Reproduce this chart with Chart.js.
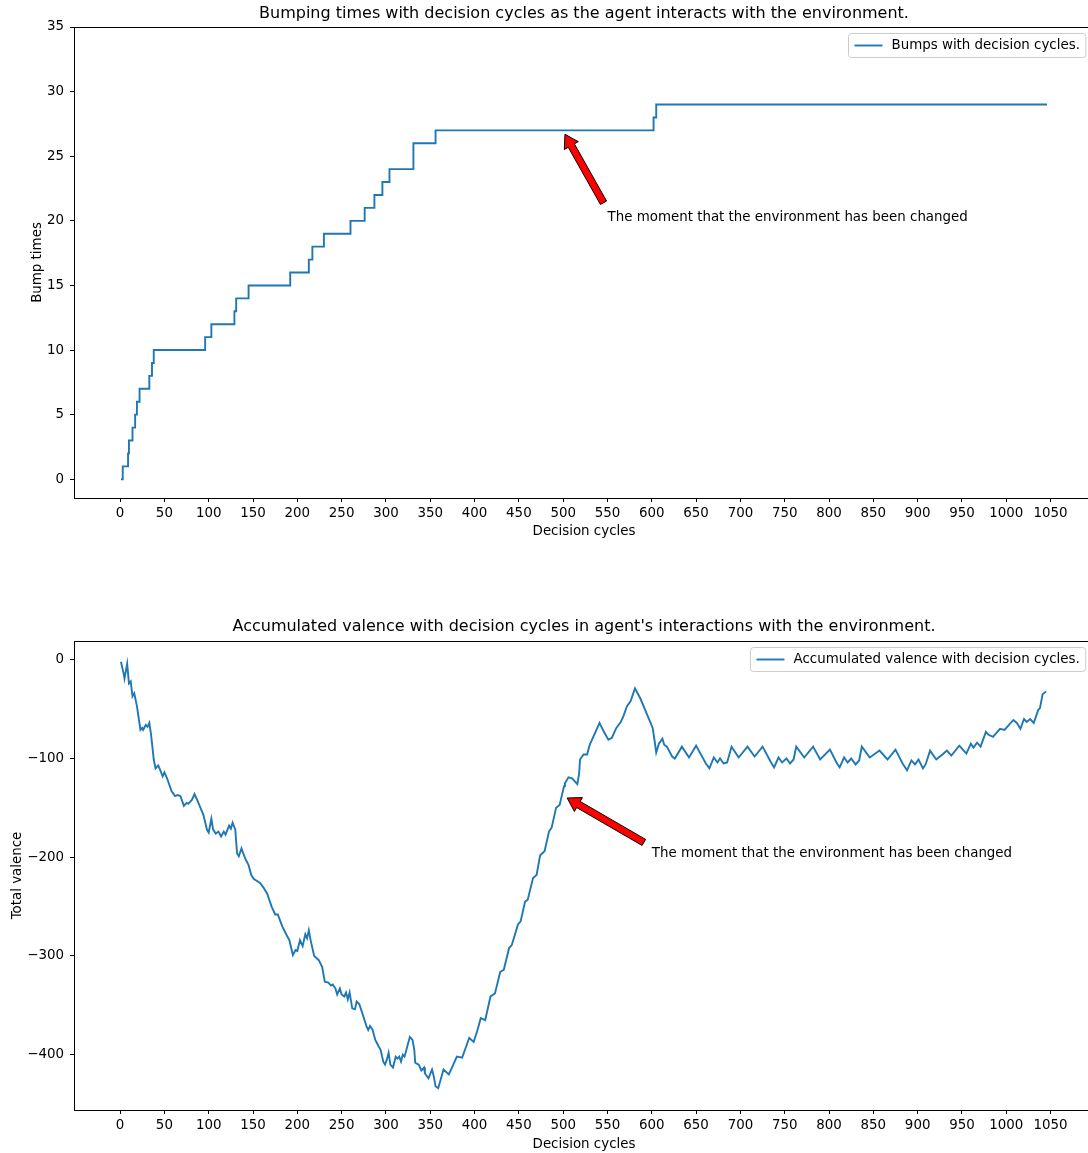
<!DOCTYPE html>
<html>
<head>
<meta charset="utf-8">
<script src="https://cdn.jsdelivr.net/npm/chart.js@4.4.1/dist/chart.umd.min.js"></script>
<style>
  html, body { margin: 0; padding: 0; background: #fff; }
  #page { position: relative; width: 1088px; height: 1153px; overflow: hidden; }
  canvas { position: absolute; left: 0; }
  #bumps { top: 0; }
  #valence { top: 580px; }
</style>
</head>
<body>
<div id="page">
  <canvas id="bumps" width="1100" height="545"></canvas>
  <canvas id="valence" width="1100" height="573"></canvas>
</div>
<script>
// tick labels shared by both x axes
const cycleTicks = [0, 50, 100, 150, 200, 250, 300, 350, 400, 450, 500, 550, 600, 650, 700, 750, 800, 850, 900, 950, 1000, 1050];

// top chart: cycle at which the bump count changes, and the new count
const bumpCycles = [1, 3, 9, 10, 14, 17, 19, 22, 33, 36, 38, 96, 103, 129, 131, 145, 192, 213, 217, 230, 260, 276, 287, 296, 304, 331, 331, 356, 602, 605, 1046];
const bumpTimes  = [0, 1, 2, 3, 4, 5, 6, 7, 8, 9, 10, 11, 12, 13, 14, 15, 16, 17, 18, 19, 20, 21, 22, 23, 24, 25, 26, 27, 28, 29, 29];
const bumpTicks = [0, 5, 10, 15, 20, 25, 30, 35];

// bottom chart: accumulated valence
const valenceCycles = [
  1, 4, 5, 8, 10, 12, 14, 16, 19, 21, 23, 25, 26, 29, 31, 33, 35, 38, 40, 43,
  45, 48, 50, 53, 58, 62, 65, 68, 72, 75, 77, 81, 84, 87, 94, 98, 100, 103, 105, 108,
  111, 114, 117, 119, 123, 125, 127, 130, 132, 134, 137, 141, 145, 148, 151, 158, 162, 166, 171, 175,
  178, 183, 188, 191, 195, 198, 200, 203, 206, 209, 211, 213, 215, 219, 224, 228, 231, 235, 238, 240,
  243, 245, 248, 250, 253, 255, 257, 259, 262, 265, 267, 270, 273, 278, 280, 282, 285, 288, 292, 294,
  297, 299, 301, 303, 305, 308, 311, 313, 315, 317, 319, 321, 324, 327, 330, 332, 333, 337, 340, 343,
  344, 348, 352, 354, 356, 359, 365, 371, 376, 380, 386, 390, 394, 399, 403, 407, 412, 418, 423, 429,
  433, 439, 442, 449, 452, 457, 460, 466, 470, 474, 479, 484, 487, 492, 496, 501, 502, 506, 510, 516,
  518, 519, 523, 527, 530, 534, 538, 541, 546, 551, 555, 560, 565, 568, 572, 576, 581, 587, 601, 603,
  605, 608, 612, 614, 617, 623, 626, 634, 642, 650, 661, 665, 670, 674, 677, 681, 685, 690, 698, 708,
  716, 725, 734, 738, 743, 747, 752, 756, 760, 763, 772, 782, 790, 801, 809, 812, 817, 821, 825, 830,
  834, 837, 846, 857, 866, 875, 883, 888, 893, 897, 901, 906, 909, 914, 921, 928, 933, 938, 947, 950,
  955, 960, 963, 967, 971, 977, 980, 985, 993, 998, 1008, 1012, 1016, 1020, 1023, 1027, 1031, 1036, 1038, 1041,
  1045
];
const valenceValues = [
  -2, -14, -19, -4, -24, -22, -37, -34, -47, -59, -71, -69, -71, -66, -68, -64, -76, -101, -110, -107,
  -111, -118, -114, -120, -133, -138, -137, -138, -148, -145, -146, -142, -136, -142, -157, -172, -175, -161, -172, -176,
  -174, -179, -174, -177, -168, -171, -165, -172, -196, -199, -191, -201, -208, -218, -222, -226, -231, -237, -250, -258,
  -258, -270, -279, -284, -299, -294, -295, -284, -290, -278, -282, -274, -284, -300, -304, -311, -326, -327, -330, -329,
  -333, -339, -333, -339, -341, -337, -344, -337, -353, -354, -346, -349, -357, -371, -375, -371, -375, -385, -392, -395,
  -407, -410, -405, -398, -410, -413, -402, -404, -402, -407, -400, -402, -392, -382, -385, -395, -408, -410, -416, -413,
  -419, -424, -415, -422, -432, -434, -415, -420, -410, -402, -403, -393, -383, -387, -376, -363, -365, -341, -338, -316,
  -314, -292, -289, -268, -265, -245, -243, -221, -218, -198, -194, -174, -170, -150, -147, -128, -125, -119, -120, -126,
  -115, -101, -96, -96, -86, -78, -70, -64, -73, -81, -79, -69, -63, -57, -47, -42, -29, -39, -69, -81,
  -94, -85, -80, -86, -88, -98, -100, -88, -99, -87, -105, -110, -99, -104, -100, -105, -104, -88, -99, -88,
  -98, -88, -103, -109, -99, -104, -100, -105, -101, -88, -99, -88, -101, -91, -105, -109, -99, -104, -100, -106,
  -102, -88, -99, -92, -101, -91, -105, -112, -102, -106, -101, -110, -106, -92, -101, -96, -92, -97, -87, -90,
  -95, -85, -89, -84, -88, -73, -76, -78, -70, -71, -61, -64, -70, -60, -63, -60, -64, -51, -49, -35,
  -32
];
const valenceTicks = [0, -100, -200, -300, -400];

const noteText = 'The moment that the environment has been changed';
// arrow ends and text anchor, in data units
const bumpNote = { tail: [545.5, 21.4], tip: [502, 26.7], text: [550, 20] };
const valenceNote = { tail: [591, -185], tip: [504.5, -140], text: [600, -200] };

const FONT = '"DejaVu Sans", sans-serif';
const SMALL = 13.4;
Chart.defaults.font.family = FONT;
Chart.defaults.color = '#000';

const framePlugin = {
  id: 'frame',
  afterDatasetsDraw(chart) {
    const { ctx, chartArea: a } = chart;
    ctx.save();
    ctx.strokeStyle = '#000';
    ctx.lineWidth = 1;
    ctx.strokeRect(Math.round(a.left) + 0.5, Math.round(a.top) + 0.5,
      Math.round(a.right - a.left), Math.round(a.bottom - a.top));
    ctx.restore();
  }
};

const notePlugin = {
  id: 'note',
  afterDatasetsDraw(chart, args, opts) {
    const { ctx, scales: { x, y } } = chart;
    const tx = x.getPixelForValue(opts.tail[0]), ty = y.getPixelForValue(opts.tail[1]);
    const px = x.getPixelForValue(opts.tip[0]), py = y.getPixelForValue(opts.tip[1]);
    const len = Math.hypot(px - tx, py - ty);
    const ux = (px - tx) / len, uy = (py - ty) / len;
    const nx = -uy, ny = ux;
    const w = 3.5, hw = 8, hl = 13;
    const bx = px - ux * hl, by = py - uy * hl;
    ctx.save();
    ctx.beginPath();
    ctx.moveTo(tx + nx * w, ty + ny * w);
    ctx.lineTo(bx + nx * w, by + ny * w);
    ctx.lineTo(bx + nx * hw, by + ny * hw);
    ctx.lineTo(px, py);
    ctx.lineTo(bx - nx * hw, by - ny * hw);
    ctx.lineTo(bx - nx * w, by - ny * w);
    ctx.lineTo(tx - nx * w, ty - ny * w);
    ctx.closePath();
    ctx.fillStyle = '#ff0000';
    ctx.fill();
    ctx.strokeStyle = '#000';
    ctx.lineWidth = 1;
    ctx.stroke();

    ctx.fillStyle = '#000';
    ctx.font = SMALL + 'px ' + FONT;
    ctx.textAlign = 'left';
    ctx.textBaseline = 'alphabetic';
    ctx.fillText(noteText, x.getPixelForValue(opts.text[0]), y.getPixelForValue(opts.text[1]));
    ctx.restore();
  }
};

const boxLegendPlugin = {
  id: 'boxLegend',
  afterDraw(chart) {
    const { ctx, chartArea: a } = chart;
    const ds = chart.data.datasets[0];
    ctx.save();
    ctx.font = SMALL + 'px ' + FONT;
    const tw = ctx.measureText(ds.label).width;
    const bw = 43 + tw + 6, bh = 24;
    const left = Math.round(a.right - 9 - bw) + 0.5, top = Math.round(a.top + 6) + 0.5;
    ctx.beginPath();
    ctx.roundRect(left, top, bw, bh, 3);
    ctx.fillStyle = 'rgba(255,255,255,0.8)';
    ctx.fill();
    ctx.strokeStyle = '#cccccc';
    ctx.lineWidth = 1;
    ctx.stroke();
    ctx.beginPath();
    ctx.moveTo(left + 6, top + bh / 2);
    ctx.lineTo(left + 34, top + bh / 2);
    ctx.strokeStyle = ds.borderColor;
    ctx.lineWidth = ds.borderWidth;
    ctx.stroke();
    ctx.fillStyle = '#000';
    ctx.textBaseline = 'middle';
    ctx.fillText(ds.label, left + 43, top + bh / 2 + 0.5);
    ctx.restore();
  }
};

function axisTicks(values, format, pad) {
  return {
    afterBuildTicks(scale) { scale.ticks = values.map(v => ({ value: v })); },
    ticks: { font: { size: SMALL }, color: '#000', padding: pad, maxRotation: 0, autoSkip: false, callback: format },
    grid: { display: true, drawOnChartArea: false, drawTicks: true, tickLength: 4, tickColor: '#000', tickWidth: 1 },
    border: { display: false }
  };
}

const minusFmt = v => (v < 0 ? '\u2212' + Math.abs(v) : String(v));

function makeChart(id, cfg) {
  return new Chart(document.getElementById(id), {
    type: 'line',
    data: {
      datasets: [{
        label: cfg.label,
        data: cfg.xs.map((c, i) => ({ x: c, y: cfg.ys[i] })),
        borderColor: '#1f77b4',
        borderWidth: 1.9,
        pointRadius: 0,
        fill: false,
        tension: 0,
        stepped: cfg.stepped
      }]
    },
    options: {
      responsive: false,
      animation: false,
      layout: { padding: { left: 0, right: 6, top: 0, bottom: 0 } },
      plugins: {
        legend: { display: false },
        tooltip: { enabled: false },
        title: {
          display: true,
          fullSize: false,
          text: cfg.title,
          color: '#000',
          font: { size: 16, weight: 'normal' },
          padding: cfg.titlePad
        },
        note: cfg.note
      },
      scales: {
        x: Object.assign(axisTicks(cycleTicks, v => String(v), 3.5), {
          type: 'linear',
          min: -52,
          max: 1099,
          afterFit(scale) { scale.height = cfg.xAxisHeight; },
          title: { display: true, text: 'Decision cycles', font: { size: SMALL }, color: '#000', padding: { top: 0, bottom: cfg.xTitleBottom } }
        }),
        y: Object.assign(axisTicks(cfg.yTicks, cfg.yFmt, 6), {
          type: 'linear',
          min: cfg.yMin,
          max: cfg.yMax,
          afterFit(scale) { scale.width = 74; },
          title: { display: true, text: cfg.yTitle, font: { size: SMALL }, color: '#000', padding: { top: cfg.yTitleTop, bottom: 0 } }
        })
      }
    },
    plugins: [framePlugin, notePlugin, boxLegendPlugin]
  });
}

makeChart('bumps', {
  label: 'Bumps with decision cycles.',
  title: 'Bumping times with decision cycles as the agent interacts with the environment.',
  xs: bumpCycles,
  ys: bumpTimes,
  stepped: 'before',
  yTicks: bumpTicks,
  yFmt: v => String(v),
  yMin: -1.45,
  yMax: 35,
  yTitle: 'Bump times',
  yTitleTop: 29,
  titlePad: { top: 4.4, bottom: 3.4 },
  xAxisHeight: 47,
  xTitleBottom: 5,
  note: bumpNote
});

makeChart('valence', {
  label: 'Accumulated valence with decision cycles.',
  title: "Accumulated valence with decision cycles in agent's interactions with the environment.",
  xs: valenceCycles,
  ys: valenceValues,
  stepped: false,
  yTicks: valenceTicks,
  yFmt: minusFmt,
  yMin: -456,
  yMax: 19,
  yTitle: 'Total valence',
  yTitleTop: 9,
  titlePad: { top: 37.4, bottom: 4.4 },
  xAxisHeight: 43,
  xTitleBottom: 0,
  note: valenceNote
});
</script>
</body>
</html>
